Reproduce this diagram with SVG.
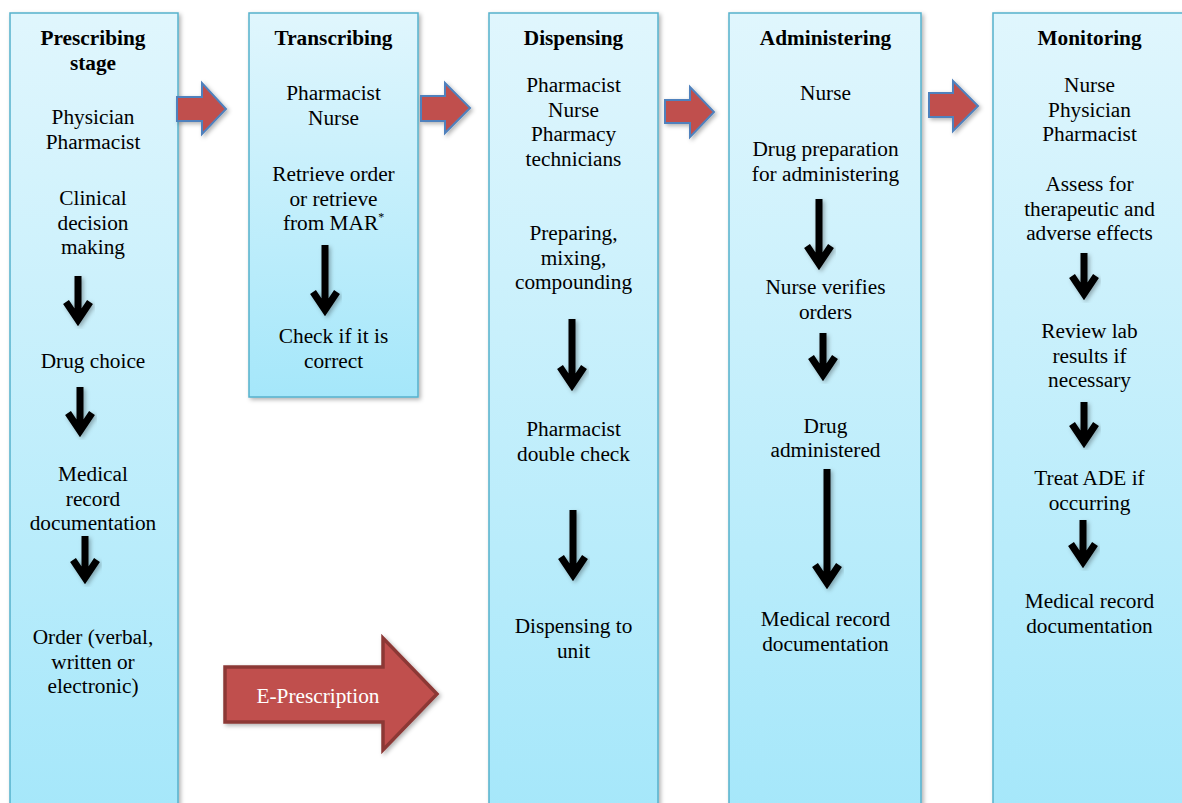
<svg xmlns="http://www.w3.org/2000/svg" width="1182" height="803" viewBox="0 0 1182 803" font-family="'Liberation Serif', 'Times New Roman', serif">
<defs>
<linearGradient id="boxg" x1="0" y1="0" x2="0" y2="1">
<stop offset="0" stop-color="#e0f6fd"/>
<stop offset="1" stop-color="#a5e7fa"/>
</linearGradient>
<filter id="sh" x="-20%" y="-20%" width="140%" height="140%">
<feDropShadow dx="2" dy="2" stdDeviation="2" flood-color="#000" flood-opacity="0.3"/>
</filter>
</defs>
<style>
.box{fill:url(#boxg);stroke:#56b1cc;stroke-width:1.5;filter:url(#sh)}
text{font-family:'Liberation Serif','Times New Roman',serif}
.t{font-size:21.3px;fill:#000;text-anchor:middle}
.h{font-weight:bold}
.ra{fill:#c0504d;stroke:#4f81bd;stroke-width:2;filter:url(#sh)}
.ba{fill:none;stroke:#000;stroke-width:7;stroke-linejoin:miter;filter:url(#sh)}
.ep{fill:#c0504d;stroke:#8c3836;stroke-width:3.5;filter:url(#sh)}
.wt{font-size:21.3px;fill:#fff;text-anchor:middle}
</style>
<rect width="1182" height="803" fill="#fff"/>

<g id="prescribing" font-family="'Liberation Serif', 'Times New Roman', serif">
<rect class="box" x="10" y="13" width="168" height="805"/>
<text class="t h" x="93" y="45">Prescribing</text>
<text class="t h" x="93" y="69.5">stage</text>
<text class="t" x="93" y="124">Physician</text>
<text class="t" x="93" y="148.5">Pharmacist</text>
<text class="t" x="93" y="205">Clinical</text>
<text class="t" x="93" y="229.5">decision</text>
<text class="t" x="93" y="254">making</text>
<text class="t" x="93" y="368">Drug choice</text>
<text class="t" x="93" y="481">Medical</text>
<text class="t" x="93" y="505.5">record</text>
<text class="t" x="93" y="530">documentation</text>
<text class="t" x="93" y="644">Order (verbal,</text>
<text class="t" x="93" y="668.5">written or</text>
<text class="t" x="93" y="693">electronic)</text>
</g>

<g id="transcribing" font-family="'Liberation Serif', 'Times New Roman', serif">
<rect class="box" x="249" y="13" width="169" height="384"/>
<text class="t h" x="333.5" y="45">Transcribing</text>
<text class="t" x="333.5" y="100">Pharmacist</text>
<text class="t" x="333.5" y="124.5">Nurse</text>
<text class="t" x="333.5" y="181">Retrieve order</text>
<text class="t" x="333.5" y="205.5">or retrieve</text>
<text class="t" x="333.5" y="230">from MAR<tspan font-size="12" dy="-9">*</tspan></text>
<text class="t" x="333.5" y="343">Check if it is</text>
<text class="t" x="333.5" y="367.5">correct</text>
</g>

<g id="dispensing" font-family="'Liberation Serif', 'Times New Roman', serif">
<rect class="box" x="489" y="13" width="169" height="805"/>
<text class="t h" x="573.5" y="45">Dispensing</text>
<text class="t" x="573.5" y="92">Pharmacist</text>
<text class="t" x="573.5" y="116.5">Nurse</text>
<text class="t" x="573.5" y="141">Pharmacy</text>
<text class="t" x="573.5" y="165.5">technicians</text>
<text class="t" x="573.5" y="240">Preparing,</text>
<text class="t" x="573.5" y="264.5">mixing,</text>
<text class="t" x="573.5" y="289">compounding</text>
<text class="t" x="573.5" y="436">Pharmacist</text>
<text class="t" x="573.5" y="460.5">double check</text>
<text class="t" x="573.5" y="633">Dispensing to</text>
<text class="t" x="573.5" y="657.5">unit</text>
</g>

<g id="administering" font-family="'Liberation Serif', 'Times New Roman', serif">
<rect class="box" x="729" y="13" width="192" height="805"/>
<text class="t h" x="825.5" y="45">Administering</text>
<text class="t" x="825.5" y="100">Nurse</text>
<text class="t" x="825.5" y="156">Drug preparation</text>
<text class="t" x="825.5" y="180.5">for administering</text>
<text class="t" x="825.5" y="294">Nurse verifies</text>
<text class="t" x="825.5" y="318.5">orders</text>
<text class="t" x="825.5" y="433">Drug</text>
<text class="t" x="825.5" y="457">administered</text>
<text class="t" x="825.5" y="626">Medical record</text>
<text class="t" x="825.5" y="650.5">documentation</text>
</g>

<g id="monitoring" font-family="'Liberation Serif', 'Times New Roman', serif">
<rect class="box" x="993" y="13" width="193" height="805"/>
<text class="t h" x="1089.5" y="45">Monitoring</text>
<text class="t" x="1089.5" y="92">Nurse</text>
<text class="t" x="1089.5" y="116.5">Physician</text>
<text class="t" x="1089.5" y="141">Pharmacist</text>
<text class="t" x="1089.5" y="191">Assess for</text>
<text class="t" x="1089.5" y="215.5">therapeutic and</text>
<text class="t" x="1089.5" y="240">adverse effects</text>
<text class="t" x="1089.5" y="338">Review lab</text>
<text class="t" x="1089.5" y="362.5">results if</text>
<text class="t" x="1089.5" y="387">necessary</text>
<text class="t" x="1089.5" y="485">Treat ADE if</text>
<text class="t" x="1089.5" y="509.5">occurring</text>
<text class="t" x="1089.5" y="608">Medical record</text>
<text class="t" x="1089.5" y="632.5">documentation</text>
</g>

<g id="connectors">
<path class="ra" d="M177 97 H202 V83 L226 109 L202 134 V121 H177 Z"/>
<path class="ra" d="M421 96 H445 V83 L470 108 L445 133 V121 H421 Z"/>
<path class="ra" d="M665 100 H690 V87 L714 112 L690 137 V123 H665 Z"/>
<path class="ra" d="M929 93 H953 V81 L978 106 L953 131 V117 H929 Z"/>

<g id="e-prescription">
<path class="ep" d="M225 667 H383 V638 L437 694 L383 750 V722 H225 Z"/>
<text class="wt" x="318" y="703" font-family="'Liberation Serif', 'Times New Roman', serif">E-Prescription</text>
</g>

<path class="ba" d="M78 276 V318 M66 302 L78 320 L90 302"/>
<path class="ba" d="M80 387 V429 M68 413 L80 431 L92 413"/>
<path class="ba" d="M85 536 V576 M73 560 L85 578 L97 560"/>
<path class="ba" d="M325 245 V308 M313 292 L325 310 L337 292"/>
<path class="ba" d="M572 319 V383 M560 367 L572 385 L584 367"/>
<path class="ba" d="M573 510 V573 M561 557 L573 575 L585 557"/>
<path class="ba" d="M819 199 V262 M807 246 L819 264 L831 246"/>
<path class="ba" d="M823 333 V373 M811 357 L823 375 L835 357"/>
<path class="ba" d="M827 469 V581 M815 565 L827 583 L839 565"/>
<path class="ba" d="M1084 253 V292 M1072 276 L1084 294 L1096 276"/>
<path class="ba" d="M1084 402 V440 M1072 424 L1084 442 L1096 424"/>
<path class="ba" d="M1083 520 V560 M1071 544 L1083 562 L1095 544"/>
</g>
</svg>
